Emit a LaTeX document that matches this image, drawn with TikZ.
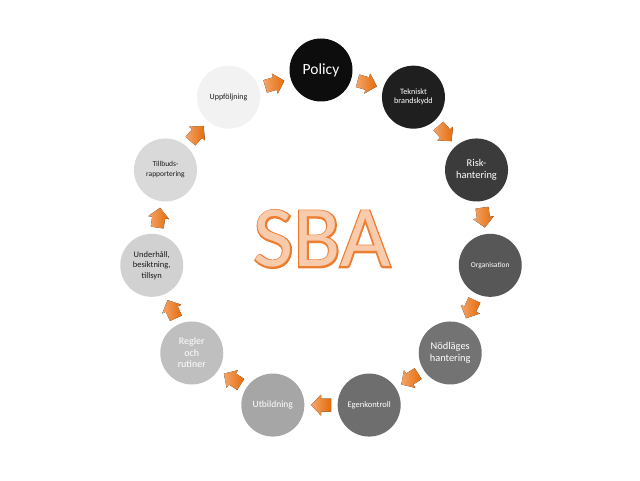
\documentclass[tikz,border=0pt]{standalone}
\usepackage{fontspec}
\setmainfont{Carlito}
\newfontfamily\sbathick{Carlito}[FakeBold=3.5]
\usepackage{xcolor}
\usepackage{tikz}
\usetikzlibrary{calc}
\definecolor{sbaOrange}{HTML}{ED7D31}
\definecolor{sbaDeep}{HTML}{E46C0A}
\definecolor{sbaPeach}{HTML}{F8CBAD}
\definecolor{sbaLight}{HTML}{F4A46A}
\definecolor{sbaInk}{HTML}{1A1A1A}
\tikzset{
  stage/.style={circle, minimum size=63pt, inner sep=1pt, align=center,
                text=white},
  turn/.pic={
    \fill[left color=sbaLight, right color=sbaDeep]
      (-10,-6.5) -- (0,-6.5) -- (0,-10.5) -- (10,0) -- (0,10.5)
      -- (0,6.5) -- (-10,6.5) -- cycle;
  },
}
\begin{document}
\begin{tikzpicture}[x=1pt,y=1pt]
  \useasboundingbox (0,0) rectangle (640,480);
  \coordinate (hub) at (321,239);

  \node[stage, fill=black!95, font=\fontsize{15.5}{18}\selectfont] (policy)
    at ($(hub)+(90:171)$) {Policy};
  \node[stage, fill=black!88, font=\fontsize{8.2}{9}\selectfont] (tekniskt)
    at ($(hub)+(57.27:171)$) {Tekniskt\\ brandskydd};
  \node[stage, fill=black!77, font=\fontsize{10.4}{12}\selectfont] (risk)
    at ($(hub)+(24.55:171)$) {Risk-\\ hantering};
  \node[stage, fill=black!66, font=\fontsize{7.5}{9}\selectfont] (org)
    at ($(hub)+(-8.18:171)$) {Organisation};
  \node[stage, fill=black!55, font=\fontsize{10.4}{12}\selectfont] (nodlage)
    at ($(hub)+(-40.91:171)$) {Nödläges\\ hantering};
  \node[stage, fill=black!57, font=\fontsize{8.5}{10}\selectfont] (egen)
    at ($(hub)+(-73.64:171)$) {Egenkontroll};
  \node[stage, fill=black!35, font=\fontsize{9.5}{11}\selectfont] (utb)
    at ($(hub)+(-106.36:171)$) {Utbildning};
  \node[stage, fill=black!25, font=\fontsize{10}{11.5}\selectfont] (regler)
    at ($(hub)+(-139.09:171)$) {Regler\\ och\\ rutiner};
  \node[stage, fill=black!18, text=sbaInk, font=\fontsize{8.5}{10.5}\selectfont] (underhall)
    at ($(hub)+(-171.82:171)$) {Underhåll,\\ besiktning,\\ tillsyn};
  \node[stage, fill=black!15, text=sbaInk, font=\fontsize{7.5}{10}\selectfont] (tillbud)
    at ($(hub)+(155.45:171)$) {Tillbuds-\\ rapportering};
  \node[stage, fill=black!5, text=sbaInk, font=\fontsize{8}{9}\selectfont] (uppf)
    at ($(hub)+(122.73:171)$) {Uppföljning};

  \node[text=sbaOrange, font=\sbathick\fontsize{87}{87}\selectfont] (sbaedge)
    at (322,241) {SBA};
  \node[text=sbaPeach, font=\fontsize{87}{87}\selectfont] (sba)
    at (322,241) {SBA};

  \foreach \a/\b in {policy/tekniskt, tekniskt/risk, risk/org, org/nodlage,
                     nodlage/egen, egen/utb, utb/regler, regler/underhall,
                     underhall/tillbud, tillbud/uppf, uppf/policy}
    \path let \p1=($(\b)-(\a)$), \n1={atan2(\y1,\x1)} in
      pic[rotate=\n1] at ($(\a)!0.5!(\b)$) {turn};
\end{tikzpicture}
\end{document}
